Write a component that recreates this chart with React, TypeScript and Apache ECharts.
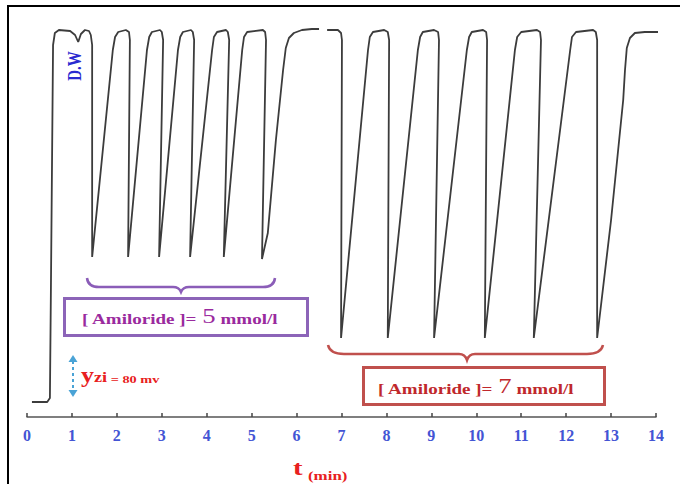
import React, { useEffect, useRef } from "react";
import * as echarts from "echarts";

// time axis (min)
const T_MIN = 0;
const T_MAX = 14;
const T_STEP = 1;

// potential trace: [t (min), signal (mV above baseline)]
const distilledWaterTrace: [number, number][] = [
  [0.11, 0], [0.45, 0], [0.51, 8], [0.53, 204], [0.58, 714], [0.62, 738], [0.71, 744],
  [0.96, 742], [1.07, 734], [1.14, 720], [1.2, 736], [1.29, 744], [1.38, 742], [1.42, 734], [1.45, 714],
];

const amiloride5Trace: [number, number][] = [
  [1.45, 290],
  [1.91, 704], [1.96, 730], [2.03, 740], [2.2, 744], [2.27, 740], [2.29, 724],
  [2.25, 290],
  [2.67, 704], [2.72, 730], [2.78, 740], [2.96, 744], [3.0, 740], [3.03, 724],
  [2.94, 290],
  [3.36, 704], [3.41, 730], [3.47, 740], [3.65, 744], [3.69, 740], [3.72, 724],
  [3.63, 290],
  [4.12, 704], [4.16, 730], [4.23, 740], [4.43, 744], [4.47, 740], [4.5, 724],
  [4.38, 290],
  [4.79, 704], [4.83, 730], [4.9, 740], [5.25, 744], [5.3, 740], [5.32, 724],
  [5.23, 286],
  [5.36, 338], [5.54, 524], [5.7, 664], [5.76, 708], [5.83, 728], [5.94, 738], [6.12, 744], [6.34, 746], [6.5, 746],
];

const recordingBreak: [number, null][] = [[6.59, null]];

const amiloride7Trace: [number, number][] = [
  [6.68, 744], [6.92, 744], [6.99, 738], [7.01, 724],
  [6.99, 128],
  [7.59, 704], [7.63, 730], [7.7, 740], [7.95, 744], [8.03, 740], [8.06, 724],
  [8.03, 128],
  [8.7, 704], [8.75, 730], [8.81, 740], [9.06, 744], [9.15, 740], [9.17, 724],
  [9.06, 128],
  [9.79, 704], [9.84, 730], [9.9, 740], [10.15, 744], [10.22, 740], [10.24, 724],
  [10.19, 128],
  [10.86, 704], [10.91, 730], [11.0, 740], [11.35, 744], [11.42, 740], [11.44, 724],
  [11.28, 128],
  [12.09, 704], [12.13, 730], [12.22, 740], [12.6, 744], [12.66, 740], [12.69, 724],
  [12.69, 128],
  [13.0, 364], [13.27, 604], [13.31, 664], [13.35, 708], [13.42, 728], [13.53, 738], [13.75, 740], [14.09, 740],
];

const concentrations = ["5", "7"];
const scaleBarText = "80 mv";

echarts.graphic.registerShape(
  "brace5",
  echarts.graphic.extendPath("M0,0 Q1,9 12,9 L86,9 Q92,9 94,14 Q96,9 102,9 L176,9 Q187,9 188,0", {})
);
echarts.graphic.registerShape(
  "brace7",
  echarts.graphic.extendPath("M0,0 Q2,9 16,9 L131,9 Q137,9 139,15 Q141,9 147,9 L259,9 Q273,9 275,0", {})
);

export default function App() {
  const ref = useRef<HTMLDivElement>(null);
  useEffect(() => {
    document.body.style.margin = "0";
    if (!ref.current) return;
    const chart = echarts.init(ref.current, null, { renderer: "svg" });
    const serif = "'Liberation Serif', 'Times New Roman', serif";
    const purple = "#9a2a9e";
    const red = "#c0282c";
    chart.setOption({
      animation: false,
      backgroundColor: "#ffffff",
      grid: { left: 27, right: 24, top: 7, bottom: 67, containLabel: false, outerBoundsMode: "none" },
      xAxis: {
        type: "value",
        min: T_MIN,
        max: T_MAX,
        interval: T_STEP,
        axisLine: { onZero: false, lineStyle: { color: "#555", width: 1.5 } },
        axisTick: { inside: true, length: 4, lineStyle: { color: "#444", width: 1.5 } },
        axisLabel: { color: "#4354d4", fontFamily: serif, fontWeight: "bold", fontSize: 16, margin: 10 },
        splitLine: { show: false },
      },
      yAxis: { type: "value", min: -30, max: 790, show: false, splitLine: { show: false } },
      series: [
        {
          type: "line",
          data: [...distilledWaterTrace, ...amiloride5Trace, ...recordingBreak, ...amiloride7Trace],
          showSymbol: false,
          symbol: "none",
          clip: false,
          connectNulls: false,
          lineStyle: { color: "#3c3c3c", width: 1.8 },
        },
      ],
      graphic: [
        { type: "rect", silent: true, shape: { x: 8, y: 6, width: 700, height: 500 }, style: { fill: "none", stroke: "#000", lineWidth: 2 } },
        { type: "brace5", x: 87, y: 278, style: { fill: "none", stroke: "#8b5db8", lineWidth: 2.5 } },
        { type: "brace7", x: 328, y: 345, style: { fill: "none", stroke: "#c0504d", lineWidth: 2.5 } },
        { type: "rect", shape: { x: 64.5, y: 298.5, width: 243, height: 37 }, style: { fill: "none", stroke: "#8c64b8", lineWidth: 3 } },
        { type: "rect", shape: { x: 363.5, y: 367.5, width: 241, height: 37 }, style: { fill: "none", stroke: "#c0504d", lineWidth: 3 } },
        {
          type: "text", x: 82, y: 316, scaleX: 1.27,
          style: {
            text: `{a|[ Amiloride ]= }{b|${concentrations[0]}}{a| mmol/l}`,
            verticalAlign: "middle",
            rich: {
              a: { fontFamily: serif, fontWeight: "bold", fontSize: 15, fill: purple, verticalAlign: "bottom" },
              b: { fontFamily: serif, fontSize: 21, fill: purple, verticalAlign: "bottom" },
            },
          },
        },
        {
          type: "text", x: 378, y: 386, scaleX: 1.27,
          style: {
            text: `{a|[ Amiloride ]= }{b|${concentrations[1]}}{a| mmol/l}`,
            verticalAlign: "middle",
            rich: {
              a: { fontFamily: serif, fontWeight: "bold", fontSize: 15, fill: red, verticalAlign: "bottom" },
              b: { fontFamily: serif, fontSize: 21, fill: red, verticalAlign: "bottom" },
            },
          },
        },
        {
          type: "text", x: 75, y: 66, rotation: Math.PI / 2, scaleY: 1.3,
          style: { text: "D.W", fill: "#2a2ad0", font: `bold 15px ${serif}`, align: "center", verticalAlign: "middle" },
        },
        { type: "line", shape: { x1: 73, y1: 361, x2: 73, y2: 391 }, style: { stroke: "#4aa3d6", lineWidth: 2, lineDash: [3, 3] } },
        { type: "polygon", shape: { points: [[68.5, 362], [77.5, 362], [73, 355]] }, style: { fill: "#4aa3d6" } },
        { type: "polygon", shape: { points: [[68.5, 390], [77.5, 390], [73, 397]] }, style: { fill: "#4aa3d6" } },
        {
          type: "text", x: 81, y: 375, scaleX: 1.3,
          style: {
            text: `{y|y}{z|zi}{e| = ${scaleBarText}}`,
            verticalAlign: "middle",
            rich: {
              y: { fontFamily: serif, fontWeight: "bold", fontSize: 20, fill: "#e82020", verticalAlign: "bottom" },
              z: { fontFamily: serif, fontWeight: "bold", fontSize: 14, fill: "#e82020", verticalAlign: "bottom" },
              e: { fontFamily: serif, fontWeight: "bold", fontSize: 11, fill: "#e82020", verticalAlign: "bottom" },
            },
          },
        },
        {
          type: "text", x: 293, y: 468, scaleX: 1.3,
          style: { text: "t", fill: "#e82020", font: `bold 22px ${serif}`, verticalAlign: "middle" },
        },
        {
          type: "text", x: 308, y: 476, scaleX: 1.3,
          style: { text: "(min)", fill: "#e82020", font: `bold 13px ${serif}`, verticalAlign: "middle" },
        },
      ],
    });
    return () => chart.dispose();
  }, []);
  return <div ref={ref} style={{ width: 680, height: 484 }} />;
}
